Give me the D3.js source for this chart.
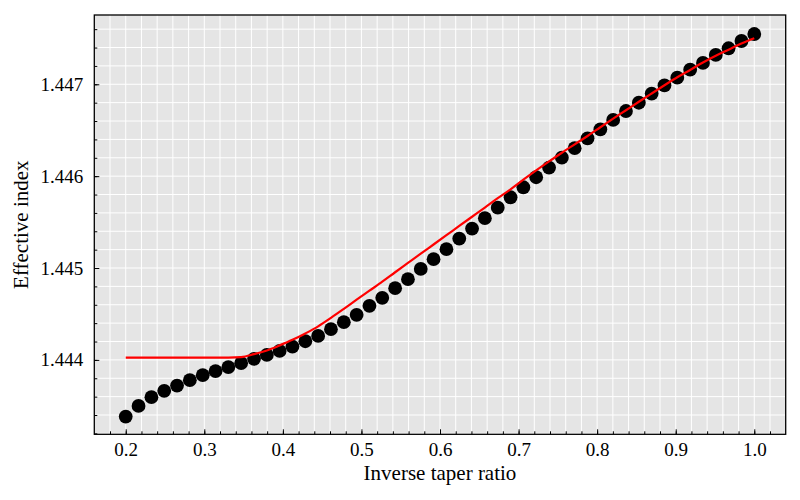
<!DOCTYPE html>
<html>
<head>
<meta charset="utf-8">
<script src="https://cdn.jsdelivr.net/npm/d3@7"></script>
<style>
  body { margin: 0; background: #fff; }
  text { font-family: "Liberation Serif", "DejaVu Serif", serif; fill: #000; }
</style>
</head>
<body>
<svg id="chart" width="800" height="500"></svg>
<script>
//------------------------------------------------------------------------------

/** inverse taper ratio, one per simulated point */
const taperRatios = [
  0.2000, 0.2163, 0.2327, 0.2490, 0.2653, 0.2816, 0.2980, 0.3143, 0.3306, 0.3469,
  0.3633, 0.3796, 0.3959, 0.4122, 0.4286, 0.4449, 0.4612, 0.4776, 0.4939, 0.5102,
  0.5265, 0.5429, 0.5592, 0.5755, 0.5918, 0.6082, 0.6245, 0.6408, 0.6571, 0.6735,
  0.6898, 0.7061, 0.7224, 0.7388, 0.7551, 0.7714, 0.7878, 0.8041, 0.8204, 0.8367,
  0.8531, 0.8694, 0.8857, 0.9020, 0.9184, 0.9347, 0.9510, 0.9673, 0.9837, 1.0000
];

/** effective index, black markers */
const simIndex = [
  1.443383, 1.443499, 1.443594, 1.443663, 1.443720, 1.443779, 1.443834, 1.443877, 1.443921, 1.443964,
  1.444011, 1.444054, 1.444098, 1.444145, 1.444203, 1.444261, 1.444334, 1.444410, 1.444490, 1.444588,
  1.444675, 1.444780, 1.444878, 1.444990, 1.445096, 1.445205, 1.445320, 1.445429, 1.445542, 1.445657,
  1.445770, 1.445879, 1.445988, 1.446093, 1.446201, 1.446304, 1.446412, 1.446510, 1.446612, 1.446709,
  1.446799, 1.446899, 1.446987, 1.447072, 1.447159, 1.447232, 1.447319, 1.447392, 1.447471, 1.447547
];

/** effective index, red curve */
const fitIndex = [
  1.444025, 1.444025, 1.444025, 1.444025, 1.444025, 1.444025, 1.444025, 1.444025, 1.444025, 1.444030,
  1.444062, 1.444103, 1.444158, 1.444218, 1.444288, 1.444365, 1.444457, 1.444555, 1.444655, 1.444753,
  1.444851, 1.444954, 1.445055, 1.445156, 1.445256, 1.445357, 1.445458, 1.445558, 1.445658, 1.445760,
  1.445857, 1.445961, 1.446062, 1.446160, 1.446255, 1.446346, 1.446437, 1.446532, 1.446626, 1.446717,
  1.446810, 1.446900, 1.446989, 1.447076, 1.447156, 1.447237, 1.447310, 1.447376, 1.447444, 1.447501
];

const xMajorTicks = [0.2, 0.3, 0.4, 0.5, 0.6, 0.7, 0.8, 0.9, 1.0];
const yMajorTicks = [1.444, 1.445, 1.446, 1.447];
const xDomain = [0.16, 1.04];
const yDomain = [1.44319, 1.447754];

//------------------------------------------------------------------------------

const
frame = {left: 94.3, right: 785.7, top: 15, bottom: 434.3},
svg = d3.select('#chart'),
x = d3.scaleLinear().domain(xDomain).range([frame.left, frame.right]),
y = d3.scaleLinear().domain(yDomain).range([frame.bottom, frame.top]),
/** minor steps : 0.02 on x, 0.0002 on y */
xMinor = d3.range(Math.round(xDomain[0] / 0.02) + 1, Math.round(xDomain[1] / 0.02))
  .map(i => +(i * 0.02).toFixed(2)),
yMinor = d3.range(Math.ceil(yDomain[0] / 0.0002 - 1e-9), Math.floor(yDomain[1] / 0.0002 + 1e-9) + 1)
  .map(i => +(i * 0.0002).toFixed(4));

svg.append('rect')
  .attr('x', frame.left).attr('y', frame.top)
  .attr('width', frame.right - frame.left).attr('height', frame.bottom - frame.top)
  .attr('fill', '#e5e5e5');

// grid : minor and major lines are both white
const grid = svg.append('g').attr('class', 'grid')
  .attr('stroke', '#fff');
grid.selectAll('line.gx')
  .data(xMinor)
  .join('line').attr('class', 'gx')
  .attr('x1', d => x(d)).attr('x2', d => x(d))
  .attr('y1', frame.top).attr('y2', frame.bottom)
  .attr('stroke-width', 1);
grid.selectAll('line.gy')
  .data(yMinor)
  .join('line').attr('class', 'gy')
  .attr('y1', d => y(d)).attr('y2', d => y(d))
  .attr('x1', frame.left).attr('x2', frame.right)
  .attr('stroke-width', 1);

// markers, then the red curve over them
svg.append('g').attr('class', 'points')
  .selectAll('circle')
  .data(taperRatios.map((r, i) => [r, simIndex[i]]))
  .join('circle')
  .attr('cx', d => x(d[0]))
  .attr('cy', d => y(d[1]))
  .attr('r', 6.9)
  .attr('fill', '#000');

const line = d3.line()
  .x(d => x(d[0]))
  .y(d => y(d[1]))
  .curve(d3.curveMonotoneX);
svg.append('path')
  .datum(taperRatios.map((r, i) => [r, fitIndex[i]]))
  .attr('d', line)
  .attr('fill', 'none')
  .attr('stroke', '#ff0000')
  .attr('stroke-width', 2.2);

//------------------------------------------------------------------------------
// axes, ticks point inwards

function styleAxis(g) {
  g.select('.domain').remove();
  g.selectAll('.tick line').attr('stroke', '#000').attr('stroke-width', 1);
  g.selectAll('.tick text').attr('font-size', 19).attr('fill', '#000');
}

svg.append('g')
  .attr('transform', `translate(0,${frame.bottom})`)
  .call(d3.axisBottom(x).tickValues(xMinor).tickSize(-3).tickFormat(''))
  .call(styleAxis);
svg.append('g')
  .attr('transform', `translate(0,${frame.bottom})`)
  .call(d3.axisBottom(x).tickValues(xMajorTicks).tickSize(-5).tickPadding(8).tickFormat(d3.format('.1f')))
  .call(styleAxis);

svg.append('g')
  .attr('transform', `translate(${frame.left},0)`)
  .call(d3.axisLeft(y).tickValues(yMinor).tickSize(-3).tickFormat(''))
  .call(styleAxis);
svg.append('g')
  .attr('transform', `translate(${frame.left},0)`)
  .call(d3.axisLeft(y).tickValues(yMajorTicks).tickSize(-5).tickPadding(11).tickFormat(d3.format('.3f')))
  .call(styleAxis);

svg.append('rect')
  .attr('x', frame.left).attr('y', frame.top)
  .attr('width', frame.right - frame.left).attr('height', frame.bottom - frame.top)
  .attr('fill', 'none')
  .attr('stroke', '#000')
  .attr('stroke-width', 1.3);

svg.append('text')
  .attr('x', (frame.left + frame.right) / 2)
  .attr('y', 480)
  .attr('text-anchor', 'middle')
  .attr('font-size', 21)
  .text('Inverse taper ratio');

svg.append('text')
  .attr('transform', `translate(28,${(frame.top + frame.bottom) / 2}) rotate(-90)`)
  .attr('text-anchor', 'middle')
  .attr('font-size', 21)
  .text('Effective index');
</script>
</body>
</html>
